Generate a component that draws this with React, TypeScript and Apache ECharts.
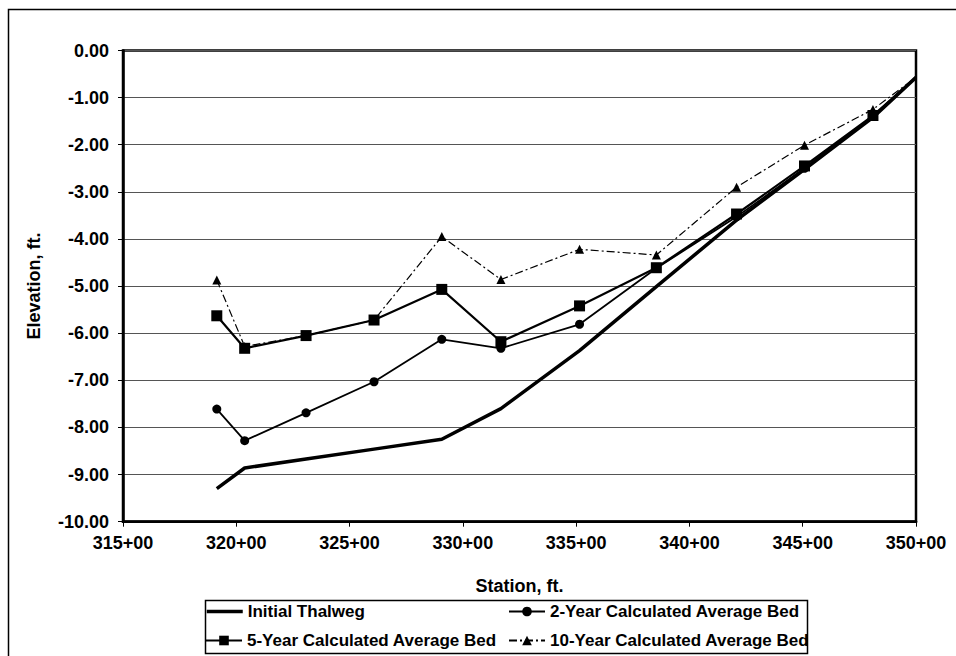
import React, { useEffect, useRef } from "react";
import * as echarts from "echarts";

const stations = [319.14, 320.37, 323.08, 326.08, 329.07, 331.68, 335.15, 338.54, 342.08, 345.08, 348.1, 350.0];
const thalweg = [-9.3, -8.86, -8.67, -8.46, -8.25, -7.6, -6.37, -5.01, -3.6, -2.52, -1.42, -0.57];
const year2 = [-7.61, -8.28, -7.69, -7.03, -6.13, -6.32, -5.81, -4.62, -3.53, -2.5, -1.4, -0.57];
const year5 = [-5.63, -6.32, -6.05, -5.72, -5.07, -6.18, -5.42, -4.61, -3.47, -2.45, -1.38, -0.57];
const year10 = [-4.87, -6.28, -6.05, -5.72, -3.95, -4.86, -4.22, -4.34, -2.9, -2.01, -1.25, -0.57];

const seriesNames = [
  "Initial Thalweg",
  "2-Year Calculated Average Bed",
  "5-Year Calculated Average Bed",
  "10-Year Calculated Average Bed",
];

const FONT = "'Liberation Sans', Arial, sans-serif";

function pairs(ys: number[], lastNoSymbol: boolean) {
  return ys.map((y, i) => {
    const item: any = { value: [stations[i], y] };
    if (lastNoSymbol && i === ys.length - 1) item.symbol = "none";
    return item;
  });
}

export default function App() {
  const ref = useRef<HTMLDivElement>(null);
  useEffect(() => {
    if (!ref.current) return;
    const chart = echarts.init(ref.current, undefined, { renderer: "svg" });
    const legendBase = {
      orient: "horizontal",
      padding: 0,
      itemWidth: 36,
      itemHeight: 12,
      itemGap: 4,
      textStyle: { fontFamily: FONT, fontSize: 17, fontWeight: "bold", color: "#000" },
    };
    chart.setOption({
      animation: false,
      backgroundColor: "#fff",
      textStyle: { fontFamily: FONT },
      grid: {
        left: 123,
        right: 40,
        top: 50.5,
        bottom: 134.3,
        show: true,
        borderColor: "#000",
        borderWidth: 2.5,
      },
      xAxis: {
        type: "value",
        min: 315,
        max: 350,
        interval: 5,
        name: "Station, ft.",
        nameLocation: "middle",
        nameGap: 55,
        nameTextStyle: { fontFamily: FONT, fontSize: 18, fontWeight: "bold", color: "#000" },
        axisLine: { show: true, onZero: false, lineStyle: { color: "#000", width: 2.5 } },
        axisTick: { show: true, inside: false, length: 5, lineStyle: { color: "#000", width: 1 } },
        axisLabel: {
          margin: 12,
          fontFamily: FONT,
          fontSize: 18,
          fontWeight: "bold",
          color: "#000",
          formatter: (v: number) => `${Math.round(v)}+00`,
        },
        splitLine: { show: false },
      },
      yAxis: {
        type: "value",
        min: -10,
        max: 0,
        interval: 1,
        name: "Elevation, ft.",
        nameLocation: "middle",
        nameGap: 80,
        nameTextStyle: { fontFamily: FONT, fontSize: 18, fontWeight: "bold", color: "#000" },
        axisLine: { show: true, onZero: false, lineStyle: { color: "#000", width: 2.5 } },
        axisTick: { show: true, inside: false, length: 5, lineStyle: { color: "#000", width: 1 } },
        axisLabel: {
          margin: 14,
          fontFamily: FONT,
          fontSize: 18,
          fontWeight: "bold",
          color: "#000",
          formatter: (v: number) => v.toFixed(2),
        },
        splitLine: { show: true, lineStyle: { color: "#555", width: 1 } },
      },
      legend: [
        {
          ...legendBase,
          left: 205,
          top: 603,
          data: [seriesNames[0]],
          itemStyle: { color: "rgba(0,0,0,0)", borderColor: "rgba(0,0,0,0)", borderWidth: 0 },
          lineStyle: { color: "#000", width: 3.5 },
        },
        { ...legendBase, left: 508, top: 603, data: [seriesNames[1]] },
        { ...legendBase, left: 205, top: 632, data: [seriesNames[2]] },
        { ...legendBase, left: 508, top: 632, data: [seriesNames[3]] },
      ],
      graphic: [
        {
          type: "rect",
          left: 6,
          top: 7,
          shape: { width: 1000, height: 700 },
          style: { fill: "none", stroke: "#000", lineWidth: 1.5 },
          silent: true,
          z: -1,
        },
        {
          type: "rect",
          left: 203,
          top: 598,
          shape: { width: 602, height: 53 },
          style: { fill: "none", stroke: "#000", lineWidth: 1.5 },
          silent: true,
        },
      ],
      series: [
        {
          name: seriesNames[0],
          type: "line",
          data: pairs(thalweg, true),
          showSymbol: false,
          symbol: "none",
          lineStyle: { color: "#000", width: 3.5 },
          itemStyle: { color: "#000" },
          z: 2,
        },
        {
          name: seriesNames[1],
          type: "line",
          data: pairs(year2, true),
          symbol: "circle",
          symbolSize: 9,
          lineStyle: { color: "#000", width: 1.8 },
          itemStyle: { color: "#000" },
          z: 3,
        },
        {
          name: seriesNames[2],
          type: "line",
          data: pairs(year5, true),
          symbol: "rect",
          symbolSize: 11,
          lineStyle: { color: "#000", width: 2.2 },
          itemStyle: { color: "#000" },
          z: 4,
        },
        {
          name: seriesNames[3],
          type: "line",
          data: pairs(year10, true),
          symbol: "triangle",
          symbolSize: 9,
          lineStyle: { color: "#000", width: 1.2, type: [8, 3, 2, 3] },
          itemStyle: { color: "#000" },
          z: 5,
        },
      ],
    });
    return () => chart.dispose();
  }, []);
  return (
    <div
      ref={ref}
      style={{ position: "fixed", left: 0, top: 0, width: 956, height: 656 }}
    />
  );
}
